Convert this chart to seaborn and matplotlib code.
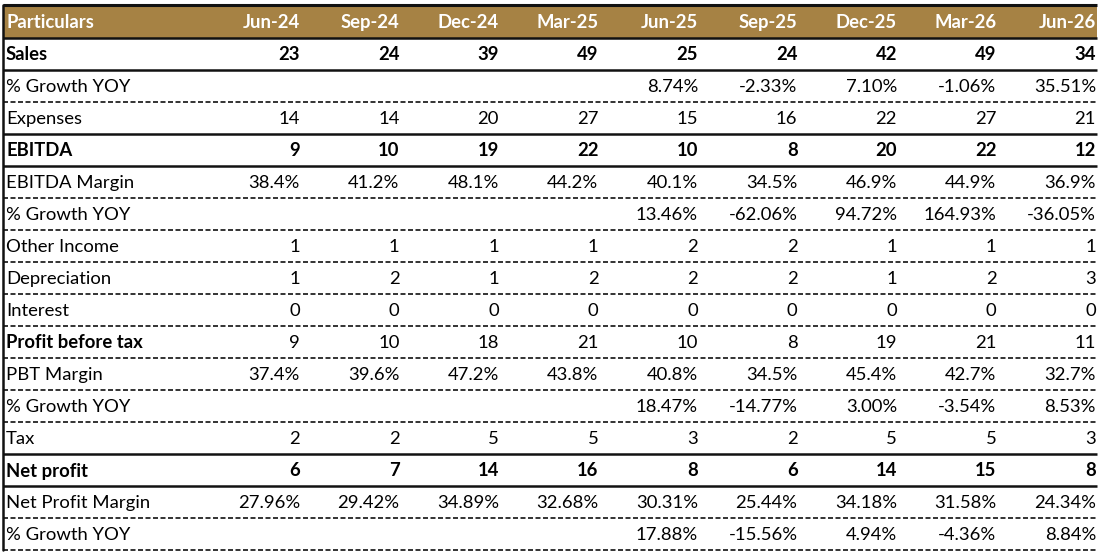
import matplotlib
matplotlib.use("Agg")
import matplotlib.pyplot as plt
import seaborn as sns

sns.set_theme(style="white")
plt.rcParams["font.family"] = ["Lato", "DejaVu Sans"]

periods = ["Jun-24", "Sep-24", "Dec-24", "Mar-25", "Jun-25", "Sep-25", "Dec-25", "Mar-26", "Jun-26"]

sales = [23, 24, 39, 49, 25, 24, 42, 49, 34]
sales_growth = [None, None, None, None, 8.74, -2.33, 7.10, -1.06, 35.51]
expenses = [14, 14, 20, 27, 15, 16, 22, 27, 21]
ebitda = [9, 10, 19, 22, 10, 8, 20, 22, 12]
ebitda_margin = [38.4, 41.2, 48.1, 44.2, 40.1, 34.5, 46.9, 44.9, 36.9]
ebitda_growth = [None, None, None, None, 13.46, -62.06, 94.72, 164.93, -36.05]
other_income = [1, 1, 1, 1, 2, 2, 1, 1, 1]
depreciation = [1, 2, 1, 2, 2, 2, 1, 2, 3]
interest = [0, 0, 0, 0, 0, 0, 0, 0, 0]
pbt = [9, 10, 18, 21, 10, 8, 19, 21, 11]
pbt_margin = [37.4, 39.6, 47.2, 43.8, 40.8, 34.5, 45.4, 42.7, 32.7]
pbt_growth = [None, None, None, None, 18.47, -14.77, 3.00, -3.54, 8.53]
tax = [2, 2, 5, 5, 3, 2, 5, 5, 3]
net_profit = [6, 7, 14, 16, 8, 6, 14, 15, 8]
net_margin = [27.96, 29.42, 34.89, 32.68, 30.31, 25.44, 34.18, 31.58, 24.34]
net_growth = [None, None, None, None, 17.88, -15.56, 4.94, -4.36, 8.84]

# label, values, format, label bold, values bold, bottom border
rows = [
    ("Sales", sales, "{:d}", True, True, "solid"),
    ("% Growth YOY", sales_growth, "{:.2f}%", False, False, "dashed"),
    ("Expenses", expenses, "{:d}", False, False, "solid"),
    ("EBITDA", ebitda, "{:d}", True, True, "solid"),
    ("EBITDA Margin", ebitda_margin, "{:.1f}%", False, False, "dashed"),
    ("% Growth YOY", ebitda_growth, "{:.2f}%", False, False, "dashed"),
    ("Other Income", other_income, "{:d}", False, False, "dashed"),
    ("Depreciation", depreciation, "{:d}", False, False, "dashed"),
    ("Interest", interest, "{:d}", False, False, "dashed"),
    ("Profit before tax", pbt, "{:d}", True, False, "dashed"),
    ("PBT Margin", pbt_margin, "{:.1f}%", False, False, "dashed"),
    ("% Growth YOY", pbt_growth, "{:.2f}%", False, False, "dashed"),
    ("Tax", tax, "{:d}", False, False, "solid"),
    ("Net profit", net_profit, "{:d}", True, True, "solid"),
    ("Net Profit Margin", net_margin, "{:.2f}%", False, False, "dashed"),
    ("% Growth YOY", net_growth, "{:.2f}%", False, False, "dashed"),
]

header_color = "#A68244"
line_color = "#111111"
fs = 13.3

fig = plt.figure(figsize=(11.01, 5.57), dpi=100)
ax = fig.add_axes([0, 0, 1, 1])
ax.set_xlim(0, 1101)
ax.set_ylim(557, 0)
ax.axis("off")

left, right = 3, 1097
label_x = 6
top = 5
header_h = 33
row_h = 32
col_right = [300 + 99.5 * i for i in range(len(periods))]

# header band
ax.fill_between([left, right], top, top + header_h, color=header_color, lw=0)
ax.plot([left, right], [top, top], color=line_color, lw=2.2, solid_capstyle="butt")
ax.plot([left, right], [top + header_h, top + header_h], color=line_color, lw=1.8,
        solid_capstyle="butt")
hy = top + header_h / 2 + 1
ax.text(label_x, hy, "Particulars", color="white", fontweight="bold", fontsize=fs,
        ha="left", va="center")
for x, p in zip(col_right, periods):
    ax.text(x, hy, p, color="white", fontweight="bold", fontsize=fs, ha="right", va="center")

y0 = top + header_h
for i, (label, vals, fmt, lb, vb, border) in enumerate(rows):
    cy = y0 + row_h * i + row_h / 2 + 1
    ax.text(label_x, cy, label, fontsize=fs, fontweight="bold" if lb else "normal",
            ha="left", va="center", color="black")
    for x, v in zip(col_right, vals):
        if v is None:
            continue
        ax.text(x, cy, fmt.format(v), fontsize=fs, fontweight="bold" if vb else "normal",
                ha="right", va="center", color="black")
    by = y0 + row_h * (i + 1)
    if border == "solid":
        ax.plot([left, right], [by, by], color=line_color, lw=1.8, solid_capstyle="butt")
    else:
        ax.plot([left, right], [by, by], color=line_color, lw=1.2, linestyle=(0, (3, 1.5)))

# left edge
ax.plot([left, left], [top, y0 + row_h * len(rows)], color=line_color, lw=1.8)

fig.savefig("out.png", dpi=100)
